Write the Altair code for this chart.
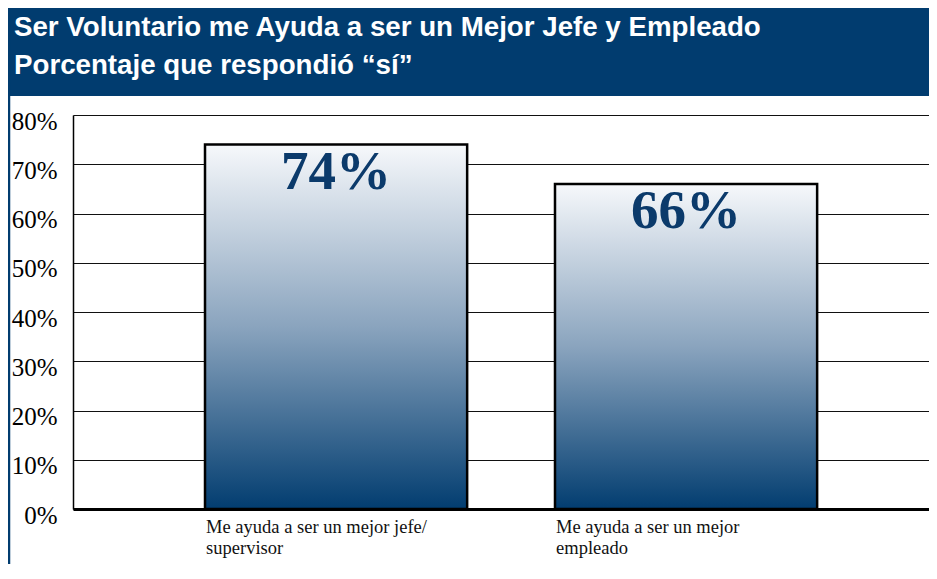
import altair as alt
import pandas as pd

TITLE_LINES = ["Ser Voluntario me Ayuda a ser un Mejor Jefe y Empleado",
               "Porcentaje que respondió “sí”"]
CATEGORIES = ["Me ayuda a ser un mejor jefe/|supervisor",
              "Me ayuda a ser un mejor|empleado"]
VALUES = [74, 66]
Y_TICKS = [0, 10, 20, 30, 40, 50, 60, 70, 80]

df = pd.DataFrame({"cat": CATEGORIES, "val": VALUES,
                   "label": [f"{v}%" for v in VALUES]})

W, H = 856, 394
BLUE = "#013c6f"
SERIF = "Liberation Serif"

one = alt.Data(values=[{"a": 1}])

banner = alt.Chart(one).mark_rect(color=BLUE).encode(
    x=alt.value(-65), x2=alt.value(W + 2), y=alt.value(-107), y2=alt.value(-19))
border = alt.Chart(one).mark_rule(color=BLUE, strokeWidth=2.5).encode(
    x=alt.value(-64), y=alt.value(-107), y2=alt.value(H + 60))

TFONT = "Liberation Sans"
t1 = alt.Chart(alt.Data(values=[{"t": TITLE_LINES[0]}])).mark_text(
    font=TFONT, fontWeight="bold", fontSize=27.7,
    color="white", align="left", baseline="alphabetic").encode(
    x=alt.value(-59), y=alt.value(-79), text="t:N")
t2 = alt.Chart(alt.Data(values=[{"t": TITLE_LINES[1]}])).mark_text(
    font=TFONT, fontWeight="bold", fontSize=27.7,
    color="white", align="left", baseline="alphabetic").encode(
    x=alt.value(-59), y=alt.value(-41), text="t:N")

SCALE_X = alt.Scale(paddingInner=0.251, paddingOuter=0.3484, align=0.5413, round=False)

XAXIS = alt.Axis(labelAlign="left", labelBaseline="top", labelOffset=-130,
                 labelExpr="split(datum.label, '|')", labelAngle=0,
                 labelFont=SERIF, labelFontSize=18.5,
                 labelColor="#111111", labelLineHeight=21, labelPadding=8,
                 labelLimit=0,
                 ticks=False, grid=False, domain=True, domainColor="black",
                 domainWidth=2.8)
YAXIS = alt.Axis(values=Y_TICKS, labelExpr="datum.value + '%'",
                 grid=True, gridColor="#111111", gridWidth=1.2, gridOpacity=1,
                 ticks=False, domain=True, domainColor="black", domainWidth=1.5,
                 labelFont=SERIF, labelFontSize=25,
                 labelColor="black", labelPadding=16, labelOffset=6)

xenc = alt.X("cat:N", sort=CATEGORIES, title=None, scale=SCALE_X, axis=XAXIS)
yenc = alt.Y("val:Q", title=None, scale=alt.Scale(domain=[0, 80]), axis=YAXIS)

bars = alt.Chart(df).mark_bar(
    stroke="black", strokeWidth=2.5,
    color=alt.Gradient(gradient="linear", x1=0, x2=0, y1=0, y2=1,
                       stops=[alt.GradientStop(color="#f6f8fb", offset=0),
                              alt.GradientStop(color="#8aa4be", offset=0.5),
                              alt.GradientStop(color="#023d70", offset=1)])
).encode(x=xenc, y=yenc)

labels = alt.Chart(df).mark_text(
    font=SERIF, fontWeight="bold", fontSize=55, color="#0b3a6b",
    baseline="top", dy=1).encode(x=xenc, y=yenc, text="label:N")

chart = alt.layer(banner, border, t1, t2, bars, labels).properties(
    width=W, height=H,
    autosize=alt.AutoSizeParams(type="none"),
    padding={"left": 65, "top": 107, "right": 0, "bottom": 55},
).configure_view(strokeWidth=0).configure(background="white")

chart.save("out.html", embed_options={"renderer": "svg", "actions": False})
